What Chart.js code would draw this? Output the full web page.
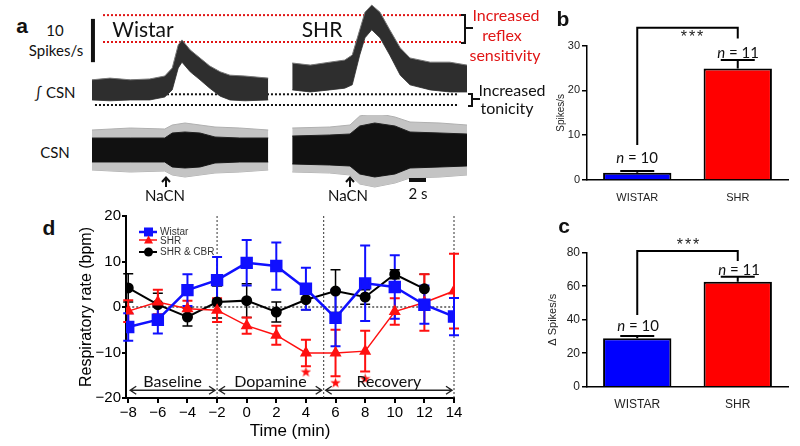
<!DOCTYPE html>
<html>
<head>
<meta charset="utf-8">
<script src="https://cdn.jsdelivr.net/npm/chart.js@4.4.1/dist/chart.umd.min.js"></script>
<style>
  body { margin: 0; width: 800px; height: 446px; background: #fff; position: relative; overflow: hidden; font-family: "Liberation Sans", Arial, sans-serif; }
  canvas { position: absolute; }
  .lbl { position: absolute; white-space: nowrap; transform: translate(-50%, -50%); line-height: 1; color: #111; }
  .cal { font-family: Lato, "Open Sans", sans-serif; }
  .panel { font-weight: bold; font-size: 21px; }
  .red { color: #e01515; }
  .leg { position: absolute; font-size: 10px; color: #333; line-height: 1; transform: translateY(-50%); white-space: nowrap; }
  .stars { font-size: 16px; letter-spacing: 2px; color: #222; }
  .brk { position: absolute; border: 2px solid #111; border-left: none; }
  .notch { position: absolute; border-top: 2px solid #111; height: 0; }
</style>
</head>
<body>
<canvas id="intCsn" width="385" height="115" style="left:85px;top:0px"></canvas>
<canvas id="rawCsn" width="385" height="75" style="left:85px;top:115px"></canvas>
<canvas id="chartB" width="245" height="205" style="left:555px;top:0px"></canvas>
<canvas id="chartC" width="254" height="210" style="left:546px;top:205px"></canvas>
<canvas id="chartD" width="400" height="240" style="left:77px;top:205px"></canvas>

<!-- panel a text -->
<div class="lbl panel" style="left:22px;top:25px">a</div>
<div class="lbl cal" style="left:55px;top:30px;font-size:15px">10</div>
<div class="lbl cal" style="left:56px;top:50px;font-size:15px">Spikes/s</div>
<div class="lbl cal" style="left:143px;top:28px;font-size:21px">Wistar</div>
<div class="lbl cal" style="left:322px;top:28px;font-size:21px">SHR</div>
<div class="lbl cal" style="left:55px;top:92px;font-size:15px">∫ CSN</div>
<div class="lbl cal" style="left:55px;top:152px;font-size:15px">CSN</div>
<div class="lbl cal" style="left:165px;top:195px;font-size:15px">NaCN</div>
<div class="lbl cal" style="left:348px;top:195px;font-size:15px">NaCN</div>
<div class="lbl cal" style="left:418px;top:193px;font-size:15px">2 s</div>
<div style="position:absolute;left:409px;top:178px;width:17px;height:4px;background:#111"></div>
<svg style="position:absolute;left:160px;top:176px" width="12" height="12"><path d="M6 11 V2 M2 6 L6 1.5 L10 6" stroke="#111" stroke-width="2" fill="none"/></svg>
<svg style="position:absolute;left:344px;top:176px" width="12" height="12"><path d="M6 11 V2 M2 6 L6 1.5 L10 6" stroke="#111" stroke-width="2" fill="none"/></svg>
<div class="brk" style="left:461px;top:14px;width:3px;height:26px"></div>
<div class="notch" style="left:466px;top:27px;width:7px"></div>
<div class="lbl cal red" style="left:506px;top:15px;font-size:16px">Increased</div>
<div class="lbl cal red" style="left:502px;top:35px;font-size:16px">reflex</div>
<div class="lbl cal red" style="left:505px;top:55px;font-size:16px">sensitivity</div>
<div class="brk" style="left:468px;top:93px;width:3px;height:10px"></div>
<div class="notch" style="left:473px;top:98px;width:7px"></div>
<div class="lbl cal" style="left:512px;top:90px;font-size:16px">Increased</div>
<div class="lbl cal" style="left:507px;top:108px;font-size:16px">tonicity</div>

<!-- panels b, c text -->
<div class="lbl panel" style="left:563px;top:18px">b</div>
<div class="lbl stars" style="left:693px;top:37px">***</div>
<div class="lbl cal" style="left:637px;top:157px;font-size:15px"><i>n</i> = 10</div>
<div class="lbl cal" style="left:738px;top:52px;font-size:15px"><i>n</i> = 11</div>
<div class="lbl panel" style="left:564px;top:225px">c</div>
<div class="lbl stars" style="left:689px;top:245px">***</div>
<div class="lbl cal" style="left:638px;top:325px;font-size:15px"><i>n</i> = 10</div>
<div class="lbl cal" style="left:739px;top:269px;font-size:15px"><i>n</i> = 11</div>

<!-- panel d text -->
<div class="lbl panel" style="left:49px;top:227px">d</div>
<svg style="position:absolute;left:136px;top:225px" width="24" height="32">
  <line x1="3" y1="7" x2="21" y2="7" stroke="#1010ff" stroke-width="2.5"/><rect x="8" y="2.5" width="9" height="9" fill="#1010ff"/>
  <line x1="3" y1="15" x2="21" y2="15" stroke="#ff1010" stroke-width="1.5"/><path d="M12.5 10.5 L17 18.5 L8 18.5 Z" fill="#ff1010"/>
  <line x1="3" y1="27" x2="21" y2="27" stroke="#000" stroke-width="2"/><circle cx="12.5" cy="27" r="4.5" fill="#000"/>
</svg>
<div class="leg" style="left:160px;top:232px">Wistar</div>
<div class="leg" style="left:160px;top:241px">SHR</div>
<div class="leg" style="left:160px;top:252px">SHR &amp; CBR</div>
<div id="phaseLabels"></div>

<script>
// ---- panel a: envelopes of the nerve traces (x in s, y in spikes/s above lower dotted line)
const wistarIntTime = [0, 2.4, 5.1, 7.7, 9.7, 10.7, 11.5, 12.0, 13.1, 14.4, 15.7, 17.1, 18.4, 20.4, 23.5];
const wistarIntHigh = [6.0, 6.4, 6.0, 6.2, 6.9, 8.8, 14.3, 15.5, 13.1, 11.2, 9.3, 7.9, 7.1, 6.9, 6.4];
const wistarIntLow = [1.2, 1.0, 1.2, 1.2, 1.9, 3.6, 8.8, 10.2, 7.9, 6.0, 4.0, 2.1, 1.2, 1.0, 1.2];
const shrIntTime = [26.7, 29.1, 31.7, 33.7, 34.7, 35.7, 36.4, 37.3, 38.4, 39.7, 41.1, 42.4, 45.1, 47.7, 50.0];
const shrIntHigh = [10.0, 9.5, 10.2, 10.7, 11.9, 17.9, 22.1, 23.8, 22.1, 17.9, 13.6, 11.2, 10.2, 10.2, 9.5];
const shrIntLow = [3.6, 3.1, 3.6, 4.0, 4.8, 11.9, 16.0, 17.9, 16.0, 11.9, 7.1, 4.8, 3.6, 3.1, 3.1];
const reflexLevels = [21.4, 15.0];
const tonicLevels = [2.55, 0];
const scaleBar = [10.2, 20.5];

// raw CSN amplitude (a.u.)
const wistarRawTime = [0, 5.1, 9.7, 10.7, 12.4, 14.4, 16.4, 19.7, 23.5];
const wistarRawCore = [12, 12, 12, 17, 18, 17, 13, 12, 12];
const wistarRawPeak = [20, 22, 21, 25, 27, 25, 23, 22, 20];
const shrRawTime = [26.7, 31.7, 34.4, 35.7, 37.7, 40.4, 42.4, 46.4, 50.0];
const shrRawCore = [14, 15, 16, 24, 27, 24, 18, 17, 16];
const shrRawPeak = [22, 23, 25, 34, 37, 33, 28, 27, 25];

// ---- panels b, c
const groups = ['WISTAR', 'SHR'];
const spikesMean = [1.6, 24.9];
const spikesSem = [0.4, 1.9];
const spikesBracket = [34.0, 7.8, 31.6];
const deltaMean = [28.9, 62.7];
const deltaSem = [1.4, 3.0];
const deltaBracket = [81.0, 42.8, 75.0];

// ---- panel d
const timeMin = [-8, -6, -4, -2, 0, 2, 4, 6, 8, 10, 12, 14];
const wistarRate = [-4.4, -2.8, 3.7, 5.9, 9.7, 9.0, 4.0, -2.4, 5.2, 4.4, 0.5, -2.1];
const wistarErr = [3.0, 3.0, 3.5, 5.1, 5.0, 5.2, 4.6, 6.2, 8.3, 7.0, 4.2, 4.1];
const shrRate = [-0.9, 1.1, -0.4, -0.7, -4.1, -6.2, -10.1, -10.1, -9.7, -1.0, 1.0, 3.5];
const shrErr = [2.4, 2.7, 1.8, 2.6, 1.8, 2.1, 2.9, 5.1, 4.5, 2.9, 6.2, 8.2];
const cbrTime = [-8, -6, -4, -2, 0, 2, 4, 6, 8, 10, 12];
const cbrRate = [4.2, 0.5, -2.2, 1.1, 1.4, -1.1, 1.6, 3.5, 2.2, 7.2, 4.0];
const cbrErr = [3.1, 2.5, 2.0, 3.5, 3.7, 2.2, 2.2, 4.7, 1.6, 1.0, 3.2];
const sigTime = [4, 6, 8];
const sigMark = [-14.3, -16.7, -15.8];
const phaseNames = ['Baseline', 'Dopamine', 'Recovery'];
const phaseEdges = [-8, -2, 5.2, 14];
const rateTicks = [-20, -10, 0, 10, 20];

Chart.defaults.font.family = "'Liberation Sans', Arial, sans-serif";

const pts = (xs, ys) => xs.map((x, i) => ({ x: x, y: ys[i] }));
const neg = arr => arr.map(v => -v);
const flat = (v, x0, x1) => [{ x: x0, y: v }, { x: x1, y: v }];
const hidden = { display: false };

const traceOpts = (ymin, ymax) => ({
  responsive: false,
  animation: false,
  layout: { padding: 0 },
  plugins: { legend: hidden, tooltip: { enabled: false } },
  elements: { point: { radius: 0 }, line: { tension: 0 } },
  scales: {
    x: { type: 'linear', min: -0.93, max: 50.4, display: false },
    y: { min: ymin, max: ymax, display: false }
  }
});

// integrated CSN
new Chart(document.getElementById('intCsn'), {
  type: 'line',
  data: {
    datasets: [
      { data: pts(wistarIntTime, wistarIntHigh), fill: '+1', backgroundColor: '#2e2e2e', borderColor: '#777', borderWidth: 1 },
      { data: pts(wistarIntTime, wistarIntLow), borderColor: '#555', borderWidth: 1 },
      { data: pts(shrIntTime, shrIntHigh), fill: '+1', backgroundColor: '#2e2e2e', borderColor: '#777', borderWidth: 1 },
      { data: pts(shrIntTime, shrIntLow), borderColor: '#555', borderWidth: 1 },
      { data: flat(reflexLevels[0], 1.47, 49.5), borderColor: '#e01515', borderWidth: 2, borderDash: [2, 2] },
      { data: flat(reflexLevels[1], 1.47, 49.5), borderColor: '#e01515', borderWidth: 2, borderDash: [2, 2] },
      { data: flat(tonicLevels[0], 0.4, 48.8), borderColor: '#111', borderWidth: 2, borderDash: [2, 2] },
      { data: flat(tonicLevels[1], 0.4, 48.8), borderColor: '#111', borderWidth: 2, borderDash: [2, 2] },
      { data: [{ x: 0.13, y: scaleBar[0] }, { x: 0.13, y: scaleBar[1] }], borderColor: '#111', borderWidth: 4 }
    ]
  },
  options: traceOpts(-2.38, 25.0)
});

// raw CSN
new Chart(document.getElementById('rawCsn'), {
  type: 'line',
  data: {
    datasets: [
      { data: pts(wistarRawTime, wistarRawCore), fill: '+1', backgroundColor: '#111', borderColor: '#222', borderWidth: 1, order: 1 },
      { data: pts(wistarRawTime, neg(wistarRawCore)), borderColor: '#222', borderWidth: 1, order: 1 },
      { data: pts(wistarRawTime, wistarRawPeak), fill: '+1', backgroundColor: '#c4c4c4', borderColor: '#b0b0b0', borderWidth: 1, order: 2 },
      { data: pts(wistarRawTime, neg(wistarRawPeak)), borderColor: '#b0b0b0', borderWidth: 1, order: 2 },
      { data: pts(shrRawTime, shrRawCore), fill: '+1', backgroundColor: '#111', borderColor: '#222', borderWidth: 1, order: 1 },
      { data: pts(shrRawTime, neg(shrRawCore)), borderColor: '#222', borderWidth: 1, order: 1 },
      { data: pts(shrRawTime, shrRawPeak), fill: '+1', backgroundColor: '#c4c4c4', borderColor: '#b0b0b0', borderWidth: 1, order: 2 },
      { data: pts(shrRawTime, neg(shrRawPeak)), borderColor: '#b0b0b0', borderWidth: 1, order: 2 }
    ]
  },
  options: traceOpts(-40, 35)
});

// error bars + significance bracket for bar panels
const barExtras = {
  id: 'barExtras',
  afterDatasetsDraw(chart, args, opts) {
    const { ctx, scales: { x, y } } = chart;
    const vals = chart.data.datasets[0].data;
    ctx.save();
    ctx.strokeStyle = '#000';
    ctx.lineWidth = 2;
    opts.sem.forEach((e, i) => {
      const px = x.getPixelForValue(i);
      const top = y.getPixelForValue(vals[i] + e);
      ctx.beginPath();
      ctx.moveTo(px, y.getPixelForValue(vals[i]));
      ctx.lineTo(px, top);
      ctx.moveTo(px - 17, top);
      ctx.lineTo(px + 17, top);
      ctx.stroke();
    });
    const [topV, lowL, lowR] = opts.bracket;
    const xl = x.getPixelForValue(0), xr = x.getPixelForValue(1);
    ctx.beginPath();
    ctx.moveTo(xl, y.getPixelForValue(lowL));
    ctx.lineTo(xl, y.getPixelForValue(topV));
    ctx.lineTo(xr, y.getPixelForValue(topV));
    ctx.lineTo(xr, y.getPixelForValue(lowR));
    ctx.stroke();
    ctx.restore();
  }
};

function barChart(id, values, sem, bracket, ymax, step, title, padTop, xHeight, yWidth, fs) {
  return new Chart(document.getElementById(id), {
    type: 'bar',
    data: {
      labels: groups,
      datasets: [{
        data: values,
        backgroundColor: ['#0000ff', '#ff0000'],
        borderColor: '#000',
        borderWidth: 2,
        barPercentage: 0.68,
        categoryPercentage: 1
      }]
    },
    options: {
      responsive: false,
      animation: false,
      layout: { padding: { top: padTop, right: 12, left: 0, bottom: 0 } },
      plugins: { legend: hidden, tooltip: { enabled: false }, barExtras: { sem: sem, bracket: bracket } },
      scales: {
        x: {
          border: { color: '#000', width: 1.5 },
          grid: { display: false },
          ticks: { color: '#222', font: { size: fs }, padding: 3 },
          afterFit: s => { s.height = xHeight; }
        },
        y: {
          min: 0, max: ymax,
          ticks: { stepSize: step, color: '#222', font: { size: fs }, padding: 2 },
          border: { color: '#000', width: 1.5 },
          grid: { drawOnChartArea: false, color: '#000', lineWidth: 1.5, tickLength: 5 },
          title: { display: true, text: title, color: '#222', font: { size: fs - 1 }, padding: 0 },
          afterFit: s => { s.width = yWidth; }
        }
      }
    },
    plugins: [barExtras]
  });
}

barChart('chartB', spikesMean, spikesSem, spikesBracket, 30, 10, 'Spikes/s', 45.7, 25, 32, 11);
barChart('chartC', deltaMean, deltaSem, deltaBracket, 80, 20, 'Δ Spikes/s', 47.7, 28.3, 41, 12);

// ---- panel d
function starImage(size, color) {
  const c = document.createElement('canvas');
  c.width = c.height = size;
  const g = c.getContext('2d');
  g.fillStyle = color;
  g.beginPath();
  for (let i = 0; i < 10; i++) {
    const r = i % 2 ? size * 0.2 : size * 0.5;
    const a = -Math.PI / 2 + i * Math.PI / 5;
    g.lineTo(size / 2 + r * Math.cos(a), size / 2 + r * Math.sin(a));
  }
  g.closePath();
  g.fill();
  return c;
}

const errorBars = {
  id: 'errorBars',
  beforeDatasetsDraw(chart) {
    const { ctx, scales: { x, y } } = chart;
    chart.data.datasets.slice().reverse().forEach(ds => {
      if (!ds.errors) return;
      ctx.save();
      ctx.strokeStyle = ds.borderColor;
      ctx.lineWidth = ds.errWidth;
      ds.data.forEach((p, i) => {
        const px = x.getPixelForValue(p.x);
        const top = y.getPixelForValue(p.y + ds.errors[i]);
        const bot = y.getPixelForValue(p.y - ds.errors[i]);
        ctx.beginPath();
        ctx.moveTo(px, top); ctx.lineTo(px, bot);
        ctx.moveTo(px - 5, top); ctx.lineTo(px + 5, top);
        ctx.moveTo(px - 5, bot); ctx.lineTo(px + 5, bot);
        ctx.stroke();
      });
      ctx.restore();
    });
  }
};

const phaseMarks = {
  id: 'phaseMarks',
  beforeDatasetsDraw(chart) {
    const { ctx, chartArea: a, scales: { x, y } } = chart;
    ctx.save();
    // zero line
    ctx.strokeStyle = '#333';
    ctx.lineWidth = 1.3;
    ctx.setLineDash([2, 2]);
    ctx.beginPath();
    ctx.moveTo(x.getPixelForValue(-8), y.getPixelForValue(0));
    ctx.lineTo(x.getPixelForValue(14), y.getPixelForValue(0));
    ctx.stroke();
    // phase boundaries
    ctx.lineWidth = 1;
    phaseEdges.slice(1).forEach(t => {
      const px = x.getPixelForValue(t);
      ctx.beginPath();
      ctx.moveTo(px, a.top);
      ctx.lineTo(px, a.bottom);
      ctx.stroke();
    });
    // double arrows
    ctx.setLineDash([]);
    ctx.lineWidth = 1.4;
    ctx.strokeStyle = '#222';
    const ay = y.getPixelForValue(-18.3);
    for (let i = 0; i < phaseNames.length; i++) {
      const x0 = x.getPixelForValue(phaseEdges[i]) + 2;
      const x1 = x.getPixelForValue(phaseEdges[i + 1]) - 2;
      ctx.beginPath();
      ctx.moveTo(x0, ay); ctx.lineTo(x1, ay);
      ctx.moveTo(x0 + 6, ay - 4); ctx.lineTo(x0, ay); ctx.lineTo(x0 + 6, ay + 4);
      ctx.moveTo(x1 - 6, ay - 4); ctx.lineTo(x1, ay); ctx.lineTo(x1 - 6, ay + 4);
      ctx.stroke();
    }
    ctx.restore();
  }
};

const minus = v => String(v).replace('-', '\u2212');

const dChart = new Chart(document.getElementById('chartD'), {
  type: 'line',
  data: {
    datasets: [
      { label: 'Wistar', data: pts(timeMin, wistarRate), errors: wistarErr, errWidth: 2,
        borderColor: '#1010ff', backgroundColor: '#1010ff', borderWidth: 2.5, pointStyle: 'rect', pointRadius: 7 },
      { label: 'SHR', data: pts(timeMin, shrRate), errors: shrErr, errWidth: 2,
        borderColor: '#ff1010', backgroundColor: '#ff1010', borderWidth: 1.5, pointStyle: 'triangle', pointRadius: 5.5 },
      { label: 'SHR & CBR', data: pts(cbrTime, cbrRate), errors: cbrErr, errWidth: 1.5,
        borderColor: '#000', backgroundColor: '#000', borderWidth: 2, pointStyle: 'circle', pointRadius: 4.5 },
      { label: 'P < 0.05', data: pts(sigTime, sigMark), showLine: false,
        pointStyle: starImage(11, '#ff1010'), pointRadius: 6 }
    ]
  },
  options: {
    responsive: false,
    animation: false,
    layout: { padding: { top: 11, right: 23, left: 0, bottom: 0 } },
    plugins: { legend: hidden, tooltip: { enabled: false } },
    elements: { line: { tension: 0 }, point: { borderWidth: 0 } },
    scales: {
      x: {
        type: 'linear', min: -8.15, max: 14,
        afterBuildTicks: s => { s.ticks = timeMin.map(v => ({ value: v })); },
        border: { color: '#000', width: 2 },
        grid: { drawOnChartArea: false, color: '#000', lineWidth: 2, tickLength: 5 },
        ticks: { color: '#000', font: { size: 15 }, padding: 1, maxRotation: 0, autoSkip: false, callback: minus },
        title: { display: true, text: 'Time (min)', color: '#000', font: { size: 17 }, padding: { top: 0, bottom: 3 } },
        afterFit: s => { s.height = 47; }
      },
      y: {
        min: -20, max: 20,
        afterBuildTicks: s => { s.ticks = rateTicks.map(v => ({ value: v })); },
        border: { color: '#000', width: 2 },
        grid: { drawOnChartArea: false, color: '#000', lineWidth: 2, tickLength: 4 },
        ticks: { color: '#000', font: { size: 15 }, padding: 1, callback: minus },
        title: { display: true, text: 'Respiratory rate (bpm)', color: '#000', font: { size: 16 }, padding: 0 },
        afterFit: s => { s.width = 49; }
      }
    }
  },
  plugins: [phaseMarks, errorBars]
});

// phase labels placed through the chart scales
const holder = document.getElementById('phaseLabels');
const dCanvas = document.getElementById('chartD');
phaseNames.forEach((name, i) => {
  const mid = (phaseEdges[i] + phaseEdges[i + 1]) / 2;
  const el = document.createElement('div');
  el.className = 'lbl cal';
  el.style.fontSize = '16px';
  el.style.left = (dCanvas.offsetLeft + dChart.scales.x.getPixelForValue(mid)) + 'px';
  el.style.top = (dCanvas.offsetTop + dChart.scales.y.getPixelForValue(-16.2)) + 'px';
  el.textContent = name;
  holder.appendChild(el);
});
</script>
</body>
</html>
